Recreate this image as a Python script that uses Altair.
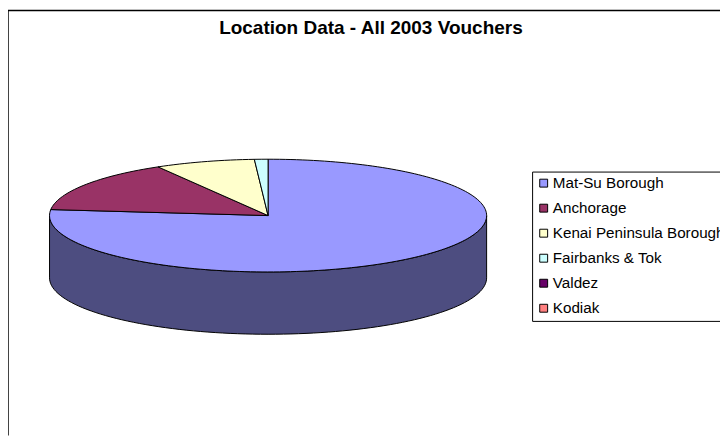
import math
import altair as alt
import pandas as pd

categories = ["Mat-Su Borough", "Anchorage", "Kenai Peninsula Borough", " Fairbanks & Tok", "Valdez", "Kodiak"]
values = [76.7, 14.9, 7.4, 1.0, 0.0, 0.0]
colors = ["#9999FF", "#993366", "#FFFFCC", "#CCFFFF", "#660066", "#FF8080"]
title_text = "Location Data - All 2003 Vouchers"

W, H = 720, 430
CX, CY, RX, RY, DEPTH = 263.0, 207.5, 221.0, 57.0, 63.0
FONT = "Liberation Sans"


def ell(deg):
    r = math.radians(deg)
    return math.sin(r), math.cos(r)


rows = []
total = sum(values)
start = 0.0
for name, v in zip(categories, values):
    sweep = 360.0 * v / total
    if sweep > 0:
        n = max(2, int(sweep / 1.5))
        seq = 0
        rows.append({"name": name, "seq": seq, "u": 0.0, "v": 0.0})
        for i in range(n + 1):
            seq += 1
            u, w = ell(start + sweep * i / n)
            rows.append({"name": name, "seq": seq, "u": u, "v": w})
        rows.append({"name": name, "seq": seq + 1, "u": 0.0, "v": 0.0})
    start += sweep
top = pd.DataFrame(rows)

wall_rows = []
seq = 0
for i in range(91):
    u, w = ell(90 + 2 * i)
    wall_rows.append({"seq": seq, "u": u, "v": w})
    seq += 1
for i in range(91):
    u, w = ell(270 - 2 * i)
    wall_rows.append({"seq": seq, "u": u, "v": w - DEPTH / RY})
    seq += 1
wall_rows.append({"seq": seq, "u": 1.0, "v": 0.0})
wall = pd.DataFrame(wall_rows)

x_scale = alt.Scale(domain=[-CX / RX, (W - CX) / RX], nice=False, zero=False)
y_scale = alt.Scale(domain=[-(H - CY) / RY, CY / RY], nice=False, zero=False)
x_enc = alt.X("u:Q", scale=x_scale, axis=None)
y_enc = alt.Y("v:Q", scale=y_scale, axis=None)

wall_layer = alt.Chart(wall).mark_line(
    fill="#4D4D80", stroke="#000000", strokeWidth=1, interpolate="linear"
).encode(x=x_enc, y=y_enc, order="seq:Q")

legend = alt.Legend(
    title=None,
    orient="none",
    legendX=530,
    legendY=163,
    fillColor="#FFFFFF",
    strokeColor="#000000",
    padding=4,
    symbolType="square",
    symbolSize=64,
    symbolStrokeColor="#000000",
    symbolStrokeWidth=1,
    symbolOpacity=1,
    labelFont=FONT,
    labelFontSize=15.4,
    labelColor="#000000",
    labelOffset=1.5,
    labelLimit=300,
    rowPadding=8.3,
)

slices = alt.Chart(top).mark_line(
    stroke="#000000", strokeWidth=1, interpolate="linear"
).encode(
    x=x_enc,
    y=y_enc,
    order="seq:Q",
    detail="name:N",
    fill=alt.Fill(
        "name:N",
        scale=alt.Scale(domain=categories, range=colors),
        sort=categories,
        legend=legend,
    ),
)

frame_left = alt.Chart(pd.DataFrame({"a": [0]})).mark_rule(color="#000000", strokeWidth=1.5).encode(
    x=alt.value(0), y=alt.value(0), y2=alt.value(H)
)
frame_top = alt.Chart(pd.DataFrame({"a": [0]})).mark_rule(color="#000000", strokeWidth=1.5).encode(
    y=alt.value(0), x=alt.value(0), x2=alt.value(W)
)

chart = alt.layer(frame_left, frame_top, wall_layer, slices).properties(
    width=W,
    height=H,
    padding=0,
    autosize=alt.AutoSizeParams(type="none"),
    title=alt.TitleParams(title_text, font=FONT, fontSize=19.2, fontWeight="bold", color="#000000",
                          anchor="middle", dx=7, dy=33),
).configure_view(stroke=None)

chart.save("out.html", embed_options={"renderer": "svg", "actions": False})
